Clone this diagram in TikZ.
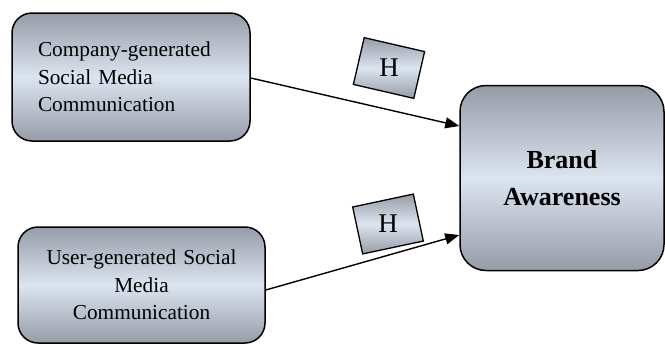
\documentclass[tikz,border=0pt]{standalone}
\usepackage{fontspec}
\setmainfont{Liberation Serif}
\usetikzlibrary{arrows.meta}
\definecolor{shTop}{RGB}{150,156,167}
\definecolor{shMid}{RGB}{220,228,240}
\tikzset{
  gbox/.style={draw=black, line width=1.5pt, rounded corners=20pt,
    top color=shTop, bottom color=shTop, middle color=shMid,
    inner sep=0pt, font=\fontsize{21.3}{27.5}\selectfont},
  hbox/.style={draw=black, line width=1.3pt,
    top color=shTop, bottom color=shTop, middle color=shMid,
    minimum width=62pt, minimum height=48pt, inner sep=0pt,
    font=\fontsize{27}{30}\selectfont},
  conn/.style={line width=1.4pt, -{Triangle[length=14pt,width=11pt]}}
}
\begin{document}
\begin{tikzpicture}[x=1pt,y=-1pt]
\useasboundingbox (0,0) rectangle (665,349);
\node[gbox, minimum width=238pt, minimum height=128pt, text width=186pt, align=left]
  (cg) at (131,77) {Company-generated\\Social Media\\Communication};
\node[gbox, minimum width=247pt, minimum height=116pt, text width=220pt, align=center]
  (ug) at (141.5,285) {User-generated Social\\Media\\Communication};
\node[gbox, rounded corners=26pt, minimum width=204pt, minimum height=185pt, text width=190pt, align=center,
  font=\bfseries\fontsize{26}{37}\selectfont]
  (ba) at (562,178) {Brand\\Awareness};
\node[hbox, rotate=-13] (h1) at (389,68) {\rotatebox{13}{H}};
\node[hbox, rotate=12] (h2) at (388,224) {\rotatebox{-12}{H}};
\coordinate (c1) at (250,78);
\coordinate (t1) at (460,126);
\coordinate (c2) at (265,290);
\coordinate (t2) at (460,235);
\draw[conn] (cg.east |- c1) -- (ba.west |- t1);
\draw[conn] (ug.east |- c2) -- (ba.west |- t2);
\end{tikzpicture}
\end{document}
